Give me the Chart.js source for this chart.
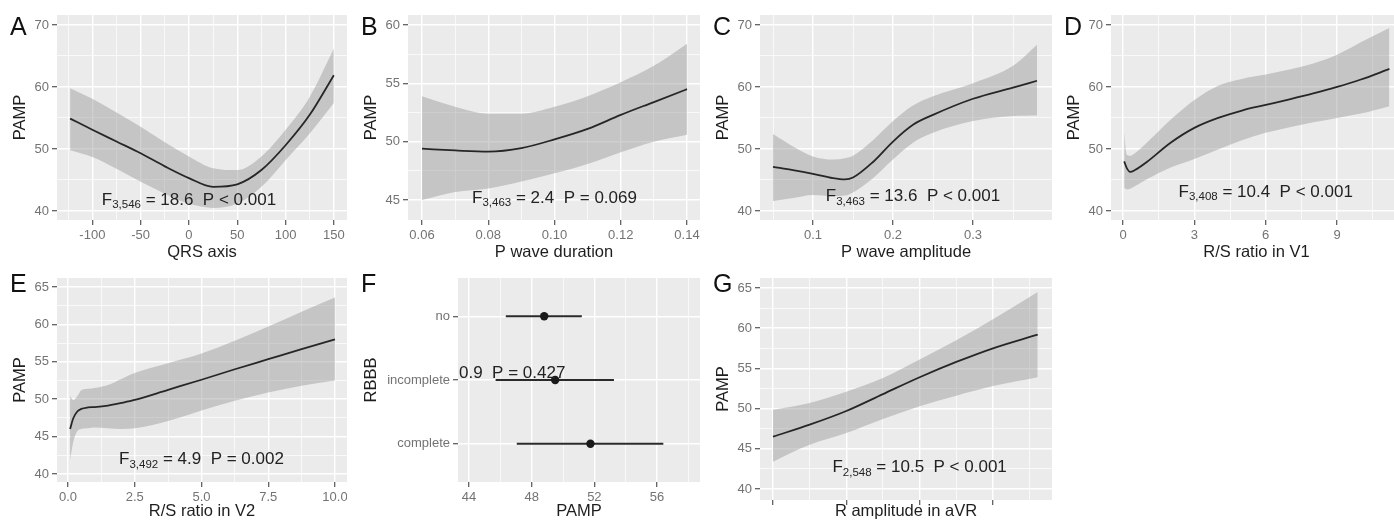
<!DOCTYPE html>
<html>
<head>
<meta charset="utf-8">
<script src="https://cdn.jsdelivr.net/npm/chart.js@4.4.1/dist/chart.umd.min.js"></script>
<style>
  html, body { margin: 0; padding: 0; background: #fff; width: 1394px; height: 522px; overflow: hidden; position: relative; }
  .panel { position: absolute; }
</style>
</head>
<body>
<script>
const FONT = "'Liberation Sans', Arial, Helvetica, sans-serif";

// A: QRS axis
const qrsX   = [-123, -100, -75, -50, -25, 0, 25, 50, 75, 100, 125, 150];
const qrsFit = [54.9, 53.1, 51.2, 49.3, 47.2, 45.3, 43.9, 44.3, 46.6, 50.6, 55.5, 61.9];
const qrsHi  = [59.8, 58.1, 55.9, 53.6, 51.1, 48.8, 46.9, 46.6, 48.8, 53.1, 58.4, 66.2];
const qrsLo  = [49.8, 48.7, 46.8, 44.7, 42.8, 41.2, 40.5, 41.2, 43.9, 48.2, 52.5, 57.4];

// B: P wave duration
const pdurX   = [0.06, 0.07, 0.08, 0.09, 0.10, 0.11, 0.12, 0.13, 0.14];
const pdurFit = [49.4, 49.25, 49.15, 49.45, 50.2, 51.1, 52.3, 53.4, 54.5];
const pdurHi  = [53.9, 53.0, 52.4, 52.4, 53.0, 53.9, 55.1, 56.5, 58.4];
const pdurLo  = [45.0, 45.7, 46.0, 46.6, 47.3, 48.1, 49.1, 50.0, 50.6];

// C: P wave amplitude
const pampX   = [0.05, 0.075, 0.1, 0.125, 0.14, 0.15, 0.175, 0.2, 0.225, 0.25, 0.3, 0.35, 0.38];
const pampFit = [47.1, 46.6, 46.0, 45.3, 45.1, 45.4, 47.9, 51.2, 53.9, 55.5, 58.1, 59.9, 61.0];
const pampHi  = [52.4, 50.4, 48.8, 48.3, 48.5, 48.9, 51.4, 54.5, 57.0, 58.5, 60.6, 63.4, 66.8];
const pampLo  = [41.6, 42.1, 42.6, 42.4, 42.5, 43.0, 45.3, 48.3, 51.0, 52.6, 54.5, 55.3, 55.4];

// D: R/S ratio in V1
const rsv1X   = [0.05, 0.15, 0.3, 0.5, 1, 2, 3, 4, 5, 6, 7, 8, 9, 10, 11.2];
const rsv1Fit = [48.0, 47.0, 46.3, 46.6, 47.9, 51.0, 53.4, 55.0, 56.2, 57.1, 58.0, 58.95, 60.0, 61.2, 62.9];
const rsv1Hi  = [52.7, 49.1, 48.9, 49.3, 51.0, 54.7, 57.9, 60.2, 61.3, 62.0, 62.8, 63.8, 65.2, 67.2, 69.5];
const rsv1Lo  = [43.75, 43.5, 43.6, 44.0, 45.1, 47.0, 48.4, 49.9, 51.4, 52.6, 53.5, 54.3, 55.0, 55.7, 56.9];

// E: R/S ratio in V2
const rsv2X   = [0.08, 0.2, 0.35, 0.5, 0.75, 1.0, 1.5, 2.0, 2.5, 3.75, 5.0, 6.25, 7.5, 8.75, 10];
const rsv2Fit = [46.0, 47.45, 48.35, 48.7, 48.9, 48.95, 49.15, 49.5, 49.9, 51.25, 52.6, 54.0, 55.35, 56.7, 58.0];
const rsv2Hi  = [50.4, 49.9, 50.4, 51.2, 51.4, 51.5, 51.9, 52.7, 53.5, 54.8, 56.1, 57.8, 59.7, 61.7, 63.6];
const rsv2Lo  = [41.9, 44.3, 45.7, 46.0, 46.1, 46.2, 46.1, 46.0, 46.1, 47.1, 48.5, 49.8, 50.9, 51.8, 52.5];

// F: RBBB
const rbbbCats = ['no', 'incomplete', 'complete'];
const rbbbEst  = [48.8, 49.5, 51.75];
const rbbbLo   = [46.35, 45.7, 47.05];
const rbbbHi   = [51.2, 53.25, 56.4];

// G: R amplitude in aVR
const avrX   = [0, 0.5, 1, 1.5, 2, 2.5, 3, 3.61];
const avrFit = [46.5, 48.0, 49.7, 51.8, 53.9, 55.8, 57.5, 59.2];
const avrHi  = [49.85, 50.7, 52.1, 53.8, 56.1, 58.5, 61.1, 64.5];
const avrLo  = [43.4, 45.5, 46.95, 48.7, 50.3, 51.6, 52.8, 53.9];

// tick values
const ticksA = [-100, -50, 0, 50, 100, 150];
const ticksB = [0.06, 0.08, 0.10, 0.12, 0.14];
const ticksC = [0.1, 0.2, 0.3];
const ticksD = [0, 3, 6, 9];
const ticksE = [0, 2.5, 5, 7.5, 10];
const ticksF = [44, 48, 52, 56];
const ticksG = [0, 1, 2, 3];
const ticksY40 = [40, 50, 60, 70];
const ticksY45 = [45, 50, 55, 60];
const ticksY5 = [40, 45, 50, 55, 60, 65];

function minorOf(major, lo, hi) {
  const step = major[1] - major[0], out = [];
  for (let v = major[0] - step / 2; v <= hi; v += step) if (v >= lo) out.push(+v.toFixed(6));
  return out;
}

function axis(o) {
  const all = o.major.map(v => ({ value: v, mj: true }))
    .concat((o.minor === false ? [] : minorOf(o.major, o.min, o.max)).map(v => ({ value: v, mj: false })))
    .sort((a, b) => a.value - b.value);
  return {
    type: 'linear', min: o.min, max: o.max, reverse: !!o.reverse, bounds: 'data',
    afterBuildTicks: s => { s.ticks = all.map(t => ({ value: t.value, mj: t.mj })); },
    afterFit: s => {
      if (o.w != null) s.width = o.w;
      if (o.h != null) s.height = o.h;
      s.paddingTop = s.paddingBottom = s.paddingLeft = s.paddingRight = 0;
    },
    grid: {
      color: '#ffffff',
      lineWidth: c => (c.tick && c.tick.mj ? 1.4 : 0.7),
      tickLength: 5, tickWidth: 1.2,
      tickColor: c => (c.tick && c.tick.mj ? '#555' : 'rgba(0,0,0,0)')
    },
    border: { display: false },
    ticks: {
      autoSkip: false, padding: 3, maxRotation: 0, color: '#737373',
      font: { family: FONT, size: 13 },
      callback: (v, i, ts) => (ts[i].mj ? o.fmt(v) : '')
    },
    title: { display: true, text: o.title, color: '#1e1e1e', font: { family: FONT, size: 16.5 }, padding: o.pad }
  };
}

function pts(xs, ys) { return xs.map((x, i) => ({ x, y: ys[i] })); }

function smoothSets(xs, fit, hi, lo) {
  return [
    { data: pts(xs, fit), borderColor: '#262626', borderWidth: 1.8, pointRadius: 0, cubicInterpolationMode: 'monotone', fill: false },
    { data: pts(xs, hi), borderWidth: 0, borderColor: 'rgba(0,0,0,0)', pointRadius: 0, cubicInterpolationMode: 'monotone',
      fill: '+1', backgroundColor: 'rgba(150,150,150,0.45)' },
    { data: pts(xs, lo), borderWidth: 0, borderColor: 'rgba(0,0,0,0)', pointRadius: 0, cubicInterpolationMode: 'monotone', fill: false }
  ];
}

const bgPlugin = {
  id: 'bg',
  beforeDraw(ch) {
    const a = ch.chartArea, c = ch.ctx;
    c.save(); c.fillStyle = '#EBEBEB'; c.fillRect(a.left, a.top, a.right - a.left, a.bottom - a.top); c.restore();
  }
};

function textPlugin(p) {
  return {
    id: 'txt',
    afterDraw(ch) {
      const c = ch.ctx;
      c.save();
      c.fillStyle = '#111';
      c.textBaseline = 'alphabetic';
      c.textAlign = 'left';
      c.font = '25px ' + FONT;
      c.fillText(p.letter, 10, 35);
      const n = p.note;
      if (n) {
        const big = '17px ' + FONT, small = '11.5px ' + FONT;
        c.font = big; const w1 = c.measureText(n.main).width, w3 = c.measureText(n.rest).width;
        c.font = small; const w2 = n.sub ? c.measureText(n.sub).width : 0;
        const px = ch.scales.x.getPixelForValue(n.x), py = ch.scales.y.getPixelForValue(n.y);
        let x0 = n.align === 'left' ? px + 1 : px - (w1 + w2 + w3) / 2;
        const base = py + 6;
        c.fillStyle = '#222';
        c.font = big; c.fillText(n.main, x0, base); x0 += w1;
        if (n.sub) { c.font = small; c.fillText(n.sub, x0, base + 3.5); x0 += w2; }
        c.font = big; c.fillText(n.rest, x0, base);
      }
      c.restore();
    }
  };
}

const yPad = { top: 11, bottom: 0 }, xPad = { top: 0, bottom: 0 };
const f0 = v => String(v), f1 = v => v.toFixed(1), f2 = v => v.toFixed(2), fNone = () => '';

const panels = [
  { letter: 'A', left: 0, top: 0, w: 347, h: 262, padTop: 15,
    x: { min: -136.6, max: 163.6, major: ticksA, fmt: f0, title: 'QRS axis', h: 42, pad: xPad },
    y: { min: 38.55, max: 71.6, major: ticksY40, fmt: f0, title: 'PAMP', w: 57, pad: yPad },
    sets: smoothSets(qrsX, qrsFit, qrsHi, qrsLo),
    note: { x: 0, y: 42.0, main: 'F', sub: '3,546', rest: ' = 18.6  P < 0.001' } },
  { letter: 'B', left: 351, top: 0, w: 349, h: 262, padTop: 15,
    x: { min: 0.05577, max: 0.14392, major: ticksB, fmt: f2, title: 'P wave duration', h: 42, pad: xPad },
    y: { min: 43.29, max: 60.86, major: ticksY45, fmt: f0, title: 'PAMP', w: 57, pad: yPad },
    sets: smoothSets(pdurX, pdurFit, pdurHi, pdurLo),
    note: { x: 0.1, y: 45.3, main: 'F', sub: '3,463', rest: ' = 2.4  P = 0.069' } },
  { letter: 'C', left: 703, top: 0, w: 349, h: 262, padTop: 15,
    x: { min: 0.03375, max: 0.39875, major: ticksC, fmt: f1, title: 'P wave amplitude', h: 42, pad: xPad },
    y: { min: 38.55, max: 71.6, major: ticksY40, fmt: f0, title: 'PAMP', w: 57, pad: yPad },
    sets: smoothSets(pampX, pampFit, pampHi, pampLo),
    note: { x: 0.225, y: 42.5, main: 'F', sub: '3,463', rest: ' = 13.6  P < 0.001' } },
  { letter: 'D', left: 1054, top: 0, w: 348, h: 262, padTop: 15,
    x: { min: -0.505, max: 11.73, major: ticksD, fmt: f0, title: 'R/S ratio in V1', h: 42, pad: xPad },
    y: { min: 38.55, max: 71.6, major: ticksY40, fmt: f0, title: 'PAMP', w: 57, pad: yPad },
    sets: smoothSets(rsv1X, rsv1Fit, rsv1Hi, rsv1Lo),
    note: { x: 6, y: 43.3, main: 'F', sub: '3,408', rest: ' = 10.4  P < 0.001' } },
  { letter: 'E', left: 0, top: 257, w: 347, h: 264, padTop: 21,
    x: { min: -0.41, max: 10.45, major: ticksE, fmt: f1, title: 'R/S ratio in V2', h: 39, pad: xPad },
    y: { min: 38.93, max: 66.2, major: ticksY5, fmt: f0, title: 'PAMP', w: 57, pad: yPad },
    sets: smoothSets(rsv2X, rsv2Fit, rsv2Hi, rsv2Lo),
    note: { x: 5, y: 42.1, main: 'F', sub: '3,492', rest: ' = 4.9  P = 0.002' } },
  { letter: 'F', left: 351, top: 257, w: 349, h: 264, padTop: 21,
    x: { min: 43.3, max: 58.74, major: ticksF, fmt: f0, title: 'PAMP', h: 39, pad: xPad },
    y: { min: 0.4, max: 3.6, reverse: true, major: [1, 2, 3], minor: false, fmt: v => rbbbCats[v - 1], title: 'RBBB', w: 107, pad: yPad },
    sets: [
      { type: 'scatter', data: rbbbEst.map((v, i) => ({ x: v, y: i + 1 })), pointRadius: 4.2, backgroundColor: '#1a1a1a', borderWidth: 0, showLine: false }
    ].concat(rbbbCats.map((c, i) => ({
      data: [{ x: rbbbLo[i], y: i + 1 }, { x: rbbbHi[i], y: i + 1 }], borderColor: '#2a2a2a', borderWidth: 1.8, pointRadius: 0, fill: false
    }))),
    note: { x: 43.3, y: 1.88, main: '', sub: '', rest: '0.9  P = 0.427', align: 'left' } },
  { letter: 'G', left: 703, top: 257, w: 349, h: 264, padTop: 21,
    x: { min: -0.177, max: 3.805, major: ticksG, fmt: fNone, title: 'R amplitude in aVR', h: 21, pad: xPad },
    y: { min: 38.63, max: 66.24, major: ticksY5, fmt: f0, title: 'PAMP', w: 57, pad: yPad },
    sets: smoothSets(avrX, avrFit, avrHi, avrLo),
    note: { x: 2, y: 42.85, main: 'F', sub: '2,548', rest: ' = 10.5  P < 0.001' } }
];

panels.forEach(p => {
  const div = document.createElement('div');
  div.className = 'panel';
  Object.assign(div.style, { left: p.left + 'px', top: p.top + 'px', width: p.w + 'px', height: p.h + 'px' });
  const cv = document.createElement('canvas');
  div.appendChild(cv);
  document.body.appendChild(div);
  new Chart(cv, {
    type: 'line',
    data: { datasets: p.sets },
    options: {
      responsive: true, maintainAspectRatio: false, animation: false, events: [],
      layout: { padding: { top: p.padTop, left: 0, right: 0, bottom: 0 }, autoPadding: false },
      plugins: { legend: { display: false }, tooltip: { enabled: false } },
      scales: { x: axis(p.x), y: axis(p.y) }
    },
    plugins: [bgPlugin, textPlugin(p)]
  });
});
</script>
</body>
</html>
